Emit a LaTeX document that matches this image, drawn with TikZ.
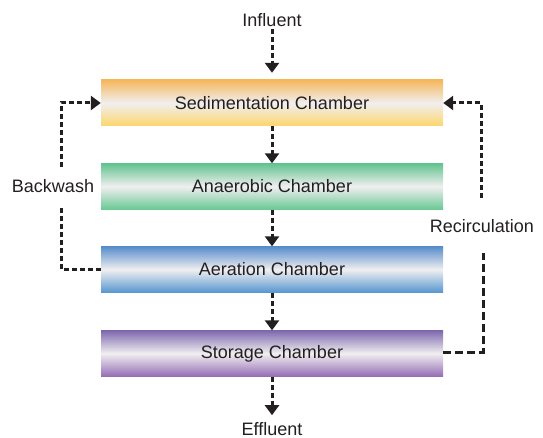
\documentclass[tikz,border=0pt]{standalone}
\usepackage{fontspec}
\setmainfont{Liberation Sans}
\usetikzlibrary{arrows.meta}

\definecolor{txt}{RGB}{35,31,32}
\definecolor{sedtop}{RGB}{246,183,92}
\definecolor{sedbot}{RGB}{253,214,108}
\definecolor{anatop}{RGB}{98,195,143}
\definecolor{anabot}{RGB}{104,200,148}
\definecolor{aertop}{RGB}{88,140,204}
\definecolor{aerbot}{RGB}{86,150,208}
\definecolor{stotop}{RGB}{126,104,174}
\definecolor{stobot}{RGB}{148,108,180}
\definecolor{band}{RGB}{240,239,240}

\tikzset{
	chamber/.style = {minimum width=342pt, minimum height=46pt, inner sep=0pt, text=txt},
	label/.style = {text=txt, inner sep=2pt},
	dline/.style = {draw=txt, line width=3pt, dash pattern=on 5pt off 3pt},
	flow/.style = {dline, -{Triangle[width=14pt,length=10pt]}}
}

\begin{document}
\begin{tikzpicture}[x=1pt,y=-1pt,font=\fontsize{18}{21}\selectfont]
	\useasboundingbox (0,0) rectangle (543,438);
	% chambers
	\node (sed) at (272, 103)	[chamber, top color=sedtop, bottom color=sedbot, middle color=band]	{Sedimentation Chamber};
	\node (ana) at (272, 186.5)	[chamber, top color=anatop, bottom color=anabot, middle color=band]	{Anaerobic Chamber};
	\node (aer) at (272, 269.5)	[chamber, top color=aertop, bottom color=aerbot, middle color=band]	{Aeration Chamber};
	\node (sto) at (272, 353.5)	[chamber, top color=stotop, bottom color=stobot, middle color=band]	{Storage Chamber};
	% labels
	\node (inf) at (272, 20)	[label]	{Influent};
	\node (eff) at (272, 429)	[label]	{Effluent};
	\node (bw)  at (53, 186)	[label]	{Backwash};
	\node (rc)  at (482, 226)	[label]	{Recirculation};
	% free ends
	\coordinate (bwlow) at (61, 206);
	\coordinate (bwup)  at (61, 167);
	\coordinate (rclow) at (483, 253);
	\coordinate (rcup)  at (481, 198);
	% main flow
	\draw[flow, shorten >=7pt] (inf) -- (sed);
	\draw[flow] (sed) -- (ana);
	\draw[flow] (ana) -- (aer);
	\draw[flow] (aer) -- (sto);
	\draw[flow, shorten >=5pt] (sto) -- (eff);
	% backwash
	\draw[dline] (aer.west) -| (bwlow);
	\draw[flow] (bwup) |- (sed.west);
	% recirculation
	\draw[dline, dash pattern=on 8pt off 4pt] (sto.east |- 0,352) -| (rclow);
	\draw[flow] (rcup) |- (sed.east);
\end{tikzpicture}
\end{document}
